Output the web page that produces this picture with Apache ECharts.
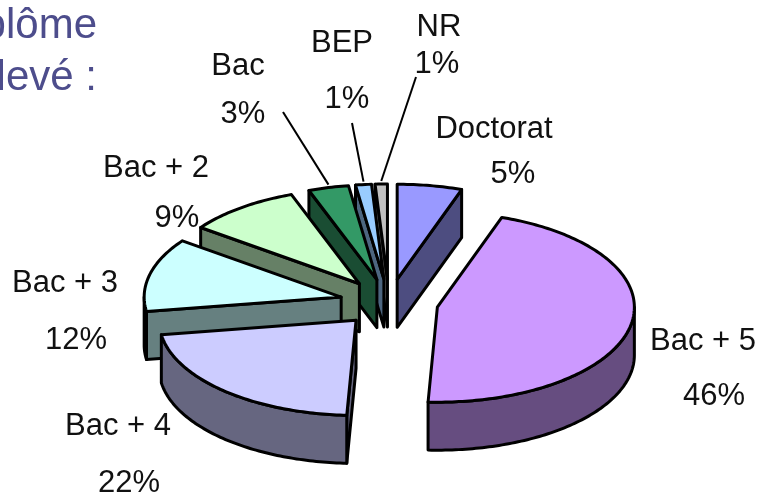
<!DOCTYPE html>
<html>
<head>
<meta charset="utf-8">
<style>html,body{margin:0;padding:0;background:#fff;overflow:hidden}#c{width:771px;height:498px}</style>
<script src="https://cdn.jsdelivr.net/npm/echarts@6/dist/echarts.min.js"></script>
</head>
<body>
<div id="c"></div>
<script>
// Data
var categories = ['Doctorat', 'Bac + 5', 'Bac + 4', 'Bac + 3', 'Bac + 2', 'Bac', 'BEP', 'NR'];
var values = [5.3, 45.4, 21.8, 12.5, 9.3, 3.3, 1.3, 1.0];
var percentLabels = ['5%', '46%', '22%', '12%', '9%', '3%', '1%', '1%'];
var titleLines = ['Diplôme', 'le plus élevé :'];

// Styles and layout
var topColors = ['#9999FF', '#CC99FF', '#CCCCFF', '#CCFFFF', '#CCFFCC', '#339966', '#99CCFF', '#C0C0C0'];
var sideColors = ['#4D4D80', '#664D80', '#666680', '#668080', '#668066', '#1A4D33', '#4D6680', '#606060'];
var labelAnchors = [
  [[494, 129], [513, 174]], [[703, 341], [714, 396]], [[118, 426], [129, 483]], [[65, 283], [76, 340]],
  [[156, 168], [177, 218]], [[238, 66], [243, 114]], [[342, 43], [347, 99]], [[439, 27], [437, 64]]
];
var leaderStarts = { 5: [283, 112], 6: [352, 123], 7: [416, 77] };
var pie = { cx: 389, cy: 302.7, a: 197, b: 95, depth: 48, explode: 0.25 };

var total = values.reduce(function (s, v) { return s + v; }, 0);
var slices = [], acc = 0;
values.forEach(function (v, i) {
  var t0 = acc / total * 360; acc += v; var t1 = acc / total * 360;
  var m = (t0 + t1) / 2 * Math.PI / 180;
  slices.push({
    i: i, t0: t0, t1: t1,
    ax: pie.cx + pie.explode * pie.a * Math.sin(m),
    ay: pie.cy - pie.explode * pie.b * Math.cos(m),
    mid: m
  });
});
function pt(s, deg, dy) {
  var r = deg * Math.PI / 180;
  return [s.ax + pie.a * Math.sin(r), s.ay - pie.b * Math.cos(r) + (dy || 0)];
}
function arc(s, from, to, dy) {
  var pts = [], n = Math.max(1, Math.ceil(Math.abs(to - from)));
  for (var k = 0; k <= n; k++) pts.push(pt(s, from + (to - from) * k / n, dy));
  return pts;
}
var order = slices.slice().sort(function (p, q) { return p.ay - q.ay; });
var edge = { stroke: '#000', lineWidth: 3, lineJoin: 'round' };
function poly(points, fill) {
  return { type: 'polygon', shape: { points: points }, style: Object.assign({ fill: fill }, edge) };
}
function renderSlice(params, api) {
  var s = order[api.value(0)], kids = [], side = sideColors[s.i];
  var apex = [s.ax, s.ay], apexB = [s.ax, s.ay + pie.depth];
  function radialWall(t) {
    kids.push(poly([apex, pt(s, t), pt(s, t, pie.depth), apexB], side));
  }
  if (Math.sin(s.t0 * Math.PI / 180) < 0) radialWall(s.t0);
  if (Math.sin(s.t1 * Math.PI / 180) > 0) radialWall(s.t1);
  var w0 = Math.max(s.t0, 90), w1 = Math.min(s.t1, 270);
  if (w1 > w0) kids.push(poly(arc(s, w0, w1, 0).concat(arc(s, w1, w0, pie.depth)), side));
  kids.push(poly([apex].concat(arc(s, s.t0, s.t1, 0)), topColors[s.i]));
  return { type: 'group', children: kids };
}
function renderLabel(params, api) {
  var i = api.value(0), kids = [], s = slices[i], font = '31px "Liberation Sans", Arial, sans-serif';
  [categories[i], percentLabels[i]].forEach(function (t, k) {
    kids.push({ type: 'text', style: { x: labelAnchors[i][k][0], y: labelAnchors[i][k][1], text: t, font: font, fill: '#111', align: 'center', verticalAlign: 'middle' } });
  });
  if (leaderStarts[i]) {
    var e = pt(s, (s.t0 + s.t1) / 2, -3);
    kids.push({ type: 'line', shape: { x1: leaderStarts[i][0], y1: leaderStarts[i][1], x2: e[0], y2: e[1] }, style: { stroke: '#000', lineWidth: 2 } });
  }
  return { type: 'group', children: kids };
}
var chart = echarts.init(document.getElementById('c'), null, { renderer: 'canvas' });
var titleFont = '42px "Liberation Sans", Arial, sans-serif';
chart.setOption({
  animation: false,
  backgroundColor: '#fff',
  graphic: [
    { type: 'text', silent: true, style: { x: 97, y: 26, text: titleLines[0], font: titleFont, fill: '#4D4D8C', align: 'right', verticalAlign: 'middle' } },
    { type: 'text', silent: true, style: { x: 97, y: 78, text: titleLines[1], font: titleFont, fill: '#4D4D8C', align: 'right', verticalAlign: 'middle' } }
  ],
  series: [
    { type: 'custom', coordinateSystem: 'none', silent: true, renderItem: renderSlice, data: order.map(function (s, k) { return [k, values[s.i]]; }) },
    { type: 'custom', coordinateSystem: 'none', silent: true, z: 5, renderItem: renderLabel, data: categories.map(function (c, i) { return [i, values[i]]; }) }
  ]
});
</script>
</body>
</html>
